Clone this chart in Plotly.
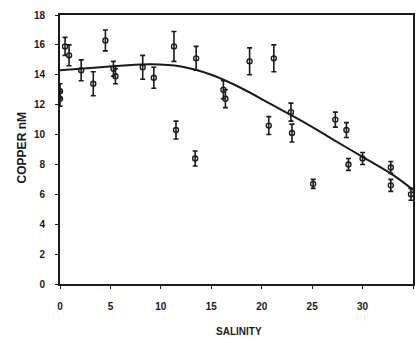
import plotly.graph_objects as go

# Measured copper concentrations along the salinity gradient
salinity = [0.0, 0.0, 0.5, 0.9, 2.1, 3.3, 4.5, 5.3, 5.5, 8.2, 9.3, 11.3, 11.5,
            13.4, 13.5, 16.2, 16.4, 18.8, 20.7, 21.2, 22.9, 23.0, 25.1, 27.3,
            28.4, 28.6, 30.0, 32.8, 32.8, 34.8]
copper = [12.9, 12.4, 15.9, 15.3, 14.3, 13.4, 16.3, 14.4, 13.9, 14.5, 13.8, 15.9, 10.3,
          8.4, 15.1, 13.0, 12.4, 14.9, 10.6, 15.1, 11.5, 10.1, 6.7, 11.0,
          10.3, 8.0, 8.4, 7.8, 6.6, 6.0]
copper_err = [0.5, 0.5, 0.6, 0.7, 0.7, 0.8, 0.7, 0.5, 0.5, 0.8, 0.7, 1.0, 0.6,
              0.5, 0.8, 0.6, 0.6, 0.9, 0.6, 0.9, 0.6, 0.6, 0.3, 0.5,
              0.5, 0.4, 0.4, 0.4, 0.4, 0.4]

# Fitted mixing curve
fit_salinity = [0, 3, 6, 9, 12, 15, 18, 21, 24, 27, 30, 33, 35]
fit_copper = [14.3, 14.45, 14.6, 14.7, 14.55, 14.0, 13.1, 12.0, 10.9, 9.7, 8.5, 7.3, 6.3]

x_ticks = [0, 5, 10, 15, 20, 25, 30, 35]
y_ticks = [0, 2, 4, 6, 8, 10, 12, 14, 16, 18]

INK = "#1a1a1a"
FONT = "Liberation Sans"

fig = go.Figure()
fig.add_trace(go.Scatter(
    x=fit_salinity, y=fit_copper, mode="lines",
    line=dict(color=INK, width=2, shape="spline"),
    hoverinfo="skip", showlegend=False,
))
fig.add_trace(go.Scatter(
    x=salinity, y=copper, mode="markers",
    marker=dict(symbol="circle-open", size=5, color=INK, line=dict(width=1.4, color=INK)),
    error_y=dict(type="data", array=copper_err, visible=True, color=INK, thickness=1.6, width=2.5),
    showlegend=False,
))

axis_common = dict(
    showgrid=False, zeroline=False, showline=True, mirror=True,
    linecolor=INK, linewidth=2, ticks="outside", ticklen=3, tickwidth=1,
    tickcolor=INK, tickfont=dict(family=FONT, size=10, color=INK, weight="bold"),
)
fig.update_xaxes(range=[0, 35], tickvals=x_ticks, ticklabelstandoff=9, **axis_common)
fig.update_yaxes(range=[0, 18], tickvals=y_ticks, ticklabelstandoff=8, **axis_common)

fig.add_annotation(text="SALINITY", xref="paper", yref="paper", x=0.508, y=-0.175,
                   showarrow=False, yanchor="middle",
                   font=dict(family=FONT, size=10, color=INK, weight="bold"))
fig.add_annotation(text="COPPER nM", xref="paper", yref="paper", x=-0.107, y=0.505,
                   showarrow=False, textangle=-90, xanchor="center",
                   font=dict(family=FONT, size=12, color=INK, weight="bold"))

fig.update_layout(
    width=417, height=343,
    margin=dict(l=60, r=2, t=15, b=59),
    paper_bgcolor="white", plot_bgcolor="white",
)

fig.write_html("out.html")
